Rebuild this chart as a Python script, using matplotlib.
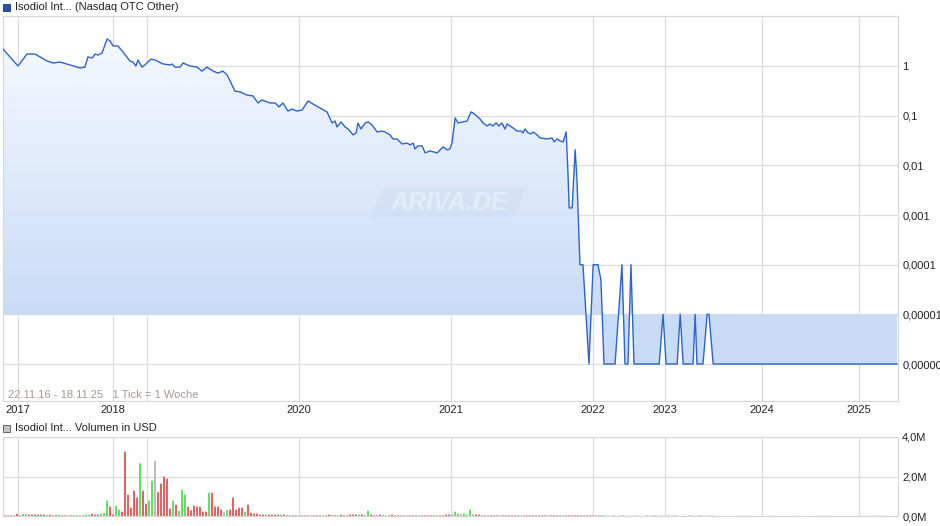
import matplotlib
matplotlib.use("Agg")
import matplotlib.pyplot as plt
import numpy as np
from matplotlib.colors import to_rgb
from matplotlib.patches import Polygon, Rectangle
from matplotlib.ticker import NullLocator

plt.rcParams.update({"font.family": ["Liberation Sans", "DejaVu Sans"], "font.size": 8})

# price line: position in chart ticks (1 Tick = 1 Woche) and price in USD
week = [0, 5, 8, 10.7, 14.7, 16.7, 19, 22.3, 25.7, 27.3,
        28.3, 29.7, 30.7, 31.7, 33, 34.7, 35.7, 36.7, 38.3, 40,
        42.3, 43.3, 44.3, 45, 46.3, 47.3, 49.3, 50.7, 53.3, 55.7,
        56.3, 57.3, 59, 60, 62.3, 64.7, 66.3, 68, 70, 71.7,
        73.3, 74.7, 77.3, 79, 81.3, 83.3, 85, 86.3, 89, 90.7,
        92, 93.3, 95, 96.3, 98, 99.7, 101.7, 103.3, 105, 108,
        109.7, 110.7, 111.3, 112.7, 114, 115, 116.7, 117.7, 118.3, 119.3,
        120.7, 121.7, 123, 124.7, 126.3, 127.3, 129, 130, 131.3, 133,
        134.7, 135.7, 136.7, 137.3, 138.3, 139.7, 140.7, 142.3, 144.7, 146.7,
        148, 149, 149.7, 150.7, 151.7, 154.7, 156, 156.7, 159, 160,
        161.3, 162.3, 163.3, 164.3, 165.3, 166.3, 167.3, 168, 170, 171.3,
        172.7, 173.3, 174, 175, 176, 176.7, 178, 179, 181.3, 183,
        183.7, 184.7, 185.7, 186.7, 187.7, 188.3, 188.7, 189.7, 190.7, 191.3,
        192.3, 193.3, 195.3, 196.7, 198.3, 199.3, 200.3, 204, 206.3, 207.3,
        208.3, 209.3, 210.3, 218.7, 220, 221, 224.7, 225.7, 226.7, 230,
        230.7, 231.3, 233.3, 234.7, 235.3, 236.7, 298]
price = [2.2, 1.0, 1.74, 1.74, 1.26, 1.15, 1.2, 1.05, 0.91, 0.95,
         1.52, 1.45, 1.74, 1.66, 1.83, 3.5, 3.18, 2.53, 2.53, 1.91,
         1.26, 1.2, 1.0, 1.32, 0.95, 1.05, 1.38, 1.32, 1.1, 1.05,
         1.1, 0.95, 0.95, 1.15, 1.0, 0.95, 0.79, 0.95, 0.79, 0.72,
         0.79, 0.66, 0.314, 0.30, 0.26, 0.25, 0.18, 0.207, 0.18, 0.18,
         0.15, 0.18, 0.124, 0.136, 0.124, 0.13, 0.198, 0.172, 0.15, 0.119,
         0.0713, 0.078, 0.0593, 0.0748, 0.0593, 0.054, 0.041, 0.045, 0.0713, 0.054,
         0.0713, 0.0748, 0.065, 0.047, 0.049, 0.047, 0.041, 0.034, 0.034, 0.027,
         0.028, 0.0258, 0.028, 0.0214, 0.0246, 0.0246, 0.0178, 0.0195, 0.0178, 0.0235,
         0.0205, 0.0214, 0.0296, 0.090, 0.0713, 0.078, 0.119, 0.113, 0.086, 0.0713,
         0.062, 0.068, 0.062, 0.0713, 0.062, 0.0713, 0.054, 0.068, 0.0566, 0.049,
         0.049, 0.045, 0.054, 0.045, 0.043, 0.047, 0.041, 0.0356, 0.034, 0.0356,
         0.0296, 0.034, 0.031, 0.0296, 0.047, 0.0070, 0.00139, 0.00139, 0.0205, 0.0051,
         1e-4, 1e-4, 1e-6, 1e-4, 1e-4, 4.9e-5, 1e-6, 1e-6, 1e-4, 1e-6,
         1e-6, 1e-4, 1e-6, 1e-6, 1e-5, 1e-6, 1e-6, 1e-5, 1e-6, 1e-6,
         1e-5, 1e-6, 1e-6, 1e-5, 1e-5, 1e-6, 1e-6]
assert len(week) == len(price)

year_pos = [5, 36.7, 48, 98.7, 149.3, 196.7, 220.7, 253, 285.3]
year_lab = ["2017", "2018", "", "2020", "2021", "2022", "2023", "2024", "2025"]
price_ticks = [1, 0.1, 0.01, 0.001, 0.0001, 0.00001, 0.000001]
price_lab = ["1", "0,1", "0,01", "0,001", "0,0001", "0,00001", "0,00000"]

# weekly volume in million USD, direction: r = down, g = up, n = unchanged
vol = [0.03, 0.03, 0.03, 0.03, 0.10, 0.03, 0.10, 0.10, 0.07, 0.07,
       0.07, 0.07, 0.07, 0.07, 0.03, 0.07, 0.03, 0.07, 0.07, 0.03,
       0.03, 0.03, 0.03, 0.03, 0.03, 0.03, 0.03, 0.07, 0.07, 0.12,
       0.07, 0.07, 0.12, 0.15, 0.78, 0.47, 0.07, 0.52, 0.32, 0.22,
       3.26, 1.08, 0.42, 1.28, 0.93, 2.67, 1.28, 0.62, 0.78, 1.79,
       2.80, 1.20, 1.64, 2.00, 1.89, 0.37, 0.78, 0.57, 0.27, 1.33,
       1.08, 0.46, 0.29, 0.52, 0.47, 0.47, 0.22, 0.22, 1.18, 1.18,
       0.47, 0.47, 0.32, 0.22, 0.29, 0.32, 0.93, 0.32, 0.42, 0.42,
       0.22, 0.57, 0.17, 0.12, 0.12, 0.07, 0.07, 0.07, 0.07, 0.07,
       0.07, 0.07, 0.07, 0.07, 0.03, 0.03, 0.03, 0.03, 0.03, 0.03,
       0.03, 0.03, 0.03, 0.03, 0.03, 0.03, 0.03, 0.03, 0.07, 0.03,
       0.03, 0.03, 0.07, 0.03, 0.03, 0.07, 0.07, 0.07, 0.07, 0.07,
       0.03, 0.27, 0.07, 0.03, 0.03, 0.07, 0.03, 0.03, 0.03, 0.07,
       0.03, 0.03, 0.03, 0.03, 0.03, 0.03, 0.03, 0.03, 0.03, 0.03,
       0.03, 0.03, 0.03, 0.03, 0.03, 0.03, 0.03, 0.07, 0.07, 0.07,
       0.22, 0.12, 0.07, 0.12, 0.07, 0.32, 0.10, 0.07, 0.07, 0.03,
       0.03, 0.03, 0.03, 0.03, 0.03, 0.03, 0.03, 0.03, 0.03, 0.03,
       0.03, 0.03, 0.03, 0.03, 0.03, 0.03, 0.03, 0.03, 0.03, 0.03,
       0.03, 0.03, 0.03, 0.03, 0.03, 0.03, 0.03, 0.03, 0.03, 0.03,
       0.03, 0.03, 0.03, 0.03, 0.03, 0.03, 0.03, 0.03, 0.03, 0.03,
       0.02, 0.02, 0.00, 0.02, 0.00, 0.02, 0.02, 0.00, 0.02, 0.00,
       0.02, 0.02, 0.00, 0.00, 0.02, 0.00, 0.02, 0.02, 0.00, 0.02,
       0.00, 0.02, 0.00, 0.02, 0.02, 0.00, 0.02, 0.00, 0.02, 0.02,
       0.00, 0.02, 0.02, 0.00, 0.02, 0.02, 0.02, 0.00, 0.00, 0.00,
       0.00, 0.01, 0.00, 0.00, 0.01, 0.00, 0.00, 0.00, 0.01, 0.00,
       0.00, 0.00, 0.00, 0.00, 0.00, 0.00, 0.01, 0.00, 0.00, 0.00,
       0.00, 0.00, 0.00, 0.00, 0.01, 0.01, 0.00, 0.00, 0.00, 0.00,
       0.00, 0.01, 0.00, 0.00, 0.00, 0.01, 0.00, 0.00, 0.00, 0.00,
       0.00, 0.00, 0.00, 0.00, 0.01, 0.00, 0.00, 0.00, 0.01, 0.01,
       0.01, 0.01, 0.00, 0.00, 0.01, 0.00, 0.00, 0.00]
vol_dir = ("rrrrrrggrr" "rrrrrrrggr" "rgrrggrggr" "rrgggrrggr" "rrrrrgrrgg"
           "nrrrrrgrgg" "grrrrrrrgr" "rrrngrrrrr" "grrrrrrgrr" "rrgrrgrrgr"
           "rrgrrrgrrr" "rgrrrrrrgr" "rgrrrrrgrr" "rrrrgrrrgr" "rrrrgrrrrg"
           "ggggggnrrr" "rgrrrgrrrr" "rrgrrrrrrr" "rgrrrrgrrr" "rrrrrrrrgr"
           "gngrngrngr" "gnngrnrgng" "ngnrgngnrg" "ngrnngnnnn" "nnnnnnnnnn"
           "nnnnnngnnn" "nnnnnnnnnn" "nnnnnnnnnn" "nnnnnnnnnn" "nnnnnnnn")
assert len(vol) == len(vol_dir)
vol_ticks = [0, 2, 4]
vol_lab = ["0,0M", "2,0M", "4,0M"]

C_LINE = "#2d64c8"
C_GRID = "#dcdcdc"
C_TOP = np.array(to_rgb("#f9fbff"))
C_BASE = np.array(to_rgb("#c8dbf7"))
BAR_C = {"r": "#e06464", "g": "#66dd66", "n": "#bdbdbd"}

W, H = 940, 526
XMAX = 298.3


def box(l, t, r, b):
    return [l / W, 1 - b / H, (r - l) / W, (b - t) / H]


def style(a):
    for s in a.spines.values():
        s.set_color("#d6d6d6")
    a.grid(True, color=C_GRID, lw=0.9)
    a.set_axisbelow(True)
    a.yaxis.tick_right()
    a.tick_params(length=0, labelcolor="#222222", labelsize=8)
    a.yaxis.set_tick_params(pad=3)


fig = plt.figure(figsize=(W / 100, H / 100), dpi=100)
ax = fig.add_axes(box(3, 16, 898, 401))
axv = fig.add_axes(box(3, 437, 898, 516))

# --- price panel
ax.set_yscale("log")
ylim = (1.8e-7, 10.15)
ax.set_xlim(0, XMAX); ax.set_ylim(*ylim)
base = 1e-5
poly = ax.fill_between(week, price, base, facecolor="none", edgecolor="none")
f0 = ax.transAxes.inverted().transform(ax.transData.transform((0, base)))[1]
fr = np.linspace(0, 1, 400)
t = np.clip((fr - f0) / (1 - f0), 0, 1)[:, None]
grad = (C_BASE * (1 - t) + C_TOP * t)[:, None, :]
im = ax.imshow(grad, extent=(0, 1, 0, 1), transform=ax.transAxes, origin="lower",
               aspect="auto", interpolation="bilinear", zorder=1)
im.set_clip_path(poly.get_paths()[0], ax.transData)
ax.plot(week, price, color=C_LINE, lw=1.0, zorder=3)
ax.set_xlim(0, XMAX); ax.set_ylim(*ylim)
style(ax)
ax.set_yticks(price_ticks, price_lab)
ax.yaxis.set_minor_locator(NullLocator())
ax.set_xticks(year_pos, year_lab)
ax.xaxis.set_tick_params(pad=3)

# watermark
wm = [(383, 188), (526, 188), (514, 217), (371, 217)]
fig.add_artist(Polygon([(x / W, 1 - y / H) for x, y in wm], closed=True,
                       transform=fig.transFigure, fc="#7f95b8", alpha=0.06, ec="none"))
fig.text(449 / W, 1 - 203 / H, "ARIVA.DE", fontsize=18, fontweight="bold", style="italic",
         color="white", alpha=0.35, ha="center", va="center")

fig.text(8 / W, 1 - 395 / H, "22.11.16 - 18.11.25   1 Tick = 1 Woche", color="#a59a8f",
         fontsize=8, va="center")

# --- volume panel (2 px bars on a 3 px weekly pitch)
axv.bar(np.arange(len(vol)) + 2 / 3, vol, width=2 / 3, snap=False,
        color=[BAR_C[c] for c in vol_dir], linewidth=0, zorder=2)
axv.set_xlim(0, XMAX); axv.set_ylim(0, 4)
style(axv)
axv.set_yticks(vol_ticks, vol_lab)
axv.set_xticks(year_pos, [""] * len(year_pos))

# legends
fig.add_artist(Rectangle((3 / W, 1 - 11 / H), 7 / W, 7 / H, transform=fig.transFigure,
                         fc="#1f55b5", ec="#23365a", lw=0.6))
fig.text(15 / W, 1 - 7 / H, "Isodiol Int... (Nasdaq OTC Other)", fontsize=8,
         color="#222222", va="center")
fig.add_artist(Rectangle((3 / W, 1 - 432 / H), 7 / W, 7 / H, transform=fig.transFigure,
                         fc="#c4c4c4", ec="#555555", lw=0.6))
fig.text(15 / W, 1 - 428 / H, "Isodiol Int... Volumen in USD", fontsize=8,
         color="#222222", va="center")

fig.savefig("out.png", dpi=100)
